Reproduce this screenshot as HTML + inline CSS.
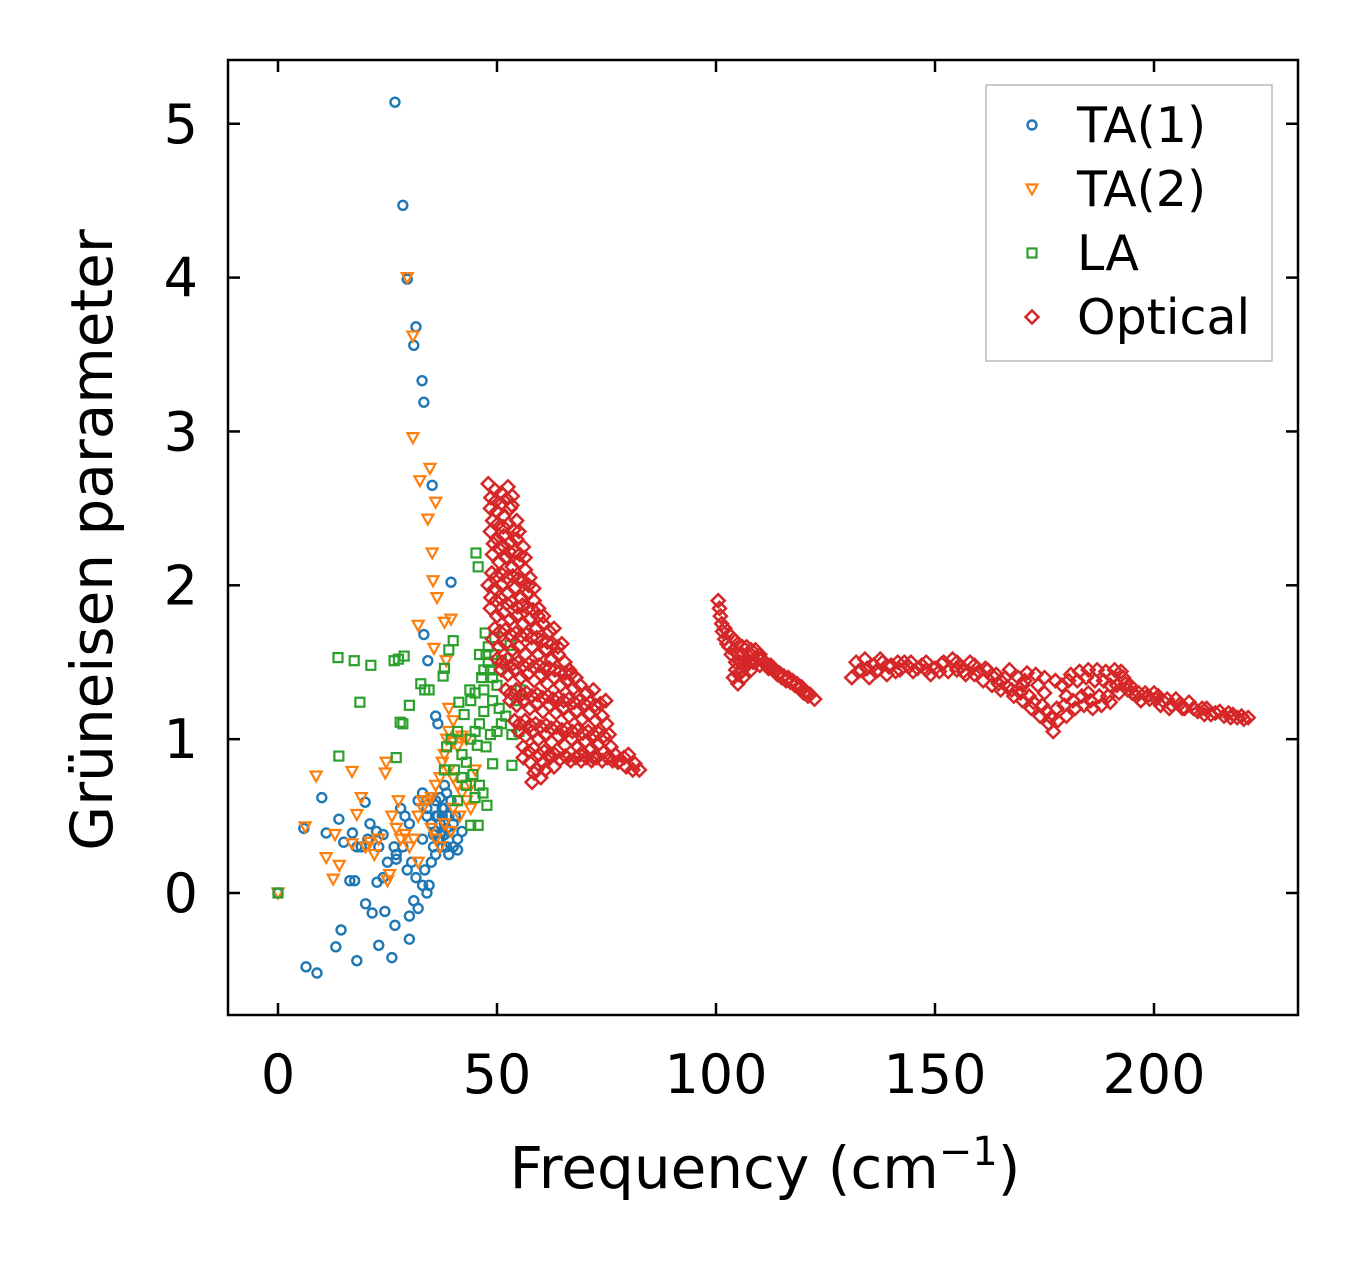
<!DOCTYPE html>
<html><head><meta charset="utf-8"><style>
body{margin:0;background:#fff;}
svg{display:block;font-family:"DejaVu Sans","Liberation Sans",sans-serif;}
</style></head><body>
<svg id="chart" width="1357" height="1264" viewBox="0 0 1357 1264" xmlns="http://www.w3.org/2000/svg">
<rect width="1357" height="1264" fill="#fff"/>
<g id="marks"></g>
<rect x="228" y="60" width="1070" height="955" fill="none" stroke="#000" stroke-width="2.5"/>
<g id="axes"></g>
<text x="765" y="1188" font-size="58" text-anchor="middle">Frequency (cm<tspan dy="-23" font-size="40">−1</tspan><tspan dy="23">)</tspan></text>
<text transform="translate(112,540) rotate(-90)" font-size="58" text-anchor="middle">Grüneisen parameter</text>
<g>
<rect x="986" y="85" width="286" height="276" fill="#fff" stroke="#bbb" stroke-width="1.5"/>
<g id="legend-items"></g>
</g>
</svg>
<script>
const xTicks=[0,50,100,150,200];
const yTicks=[0,1,2,3,4,5];
const ta1=[[0,0],[26.7,5.14],[28.5,4.47],[29.5,3.99],[31.5,3.68],[31,3.56],[32.9,3.33],[33.3,3.19],[35.2,2.65],[39.5,2.02],[33.3,1.68],[34.2,1.51],[36,1.15],[36.5,1.1],[6.4,-0.48],[8.9,-0.52],[18,-0.44],[13.2,-0.35],[14.4,-0.24],[23,-0.34],[26,-0.42],[30,-0.3],[26.7,-0.21],[21.5,-0.13],[24.4,-0.12],[20,-0.07],[22.6,0.07],[10,0.62],[5.9,0.42],[19.9,0.59],[16.4,0.08],[17.5,0.08],[17,0.39],[13.9,0.48],[11,0.39],[21,0.45],[22.5,0.4],[24,0.38],[26.5,0.3],[27,0.22],[28,0.55],[29,0.5],[30,0.45],[29.5,0.15],[30.5,0.2],[31,-0.05],[32,-0.1],[30,-0.15],[31.5,0.1],[33,0.05],[34,0],[34.5,0.05],[33.5,0.15],[35,0.2],[36,0.25],[35.5,0.3],[33,0.35],[32,0.6],[33,0.65],[34,0.55],[35,0.45],[36,0.4],[37,0.35],[37.5,0.5],[38,0.45],[38.5,0.3],[39,0.25],[40,0.3],[41,0.35],[40.5,0.5],[39.5,0.6],[38,0.7],[37,0.62],[36,0.6],[41,0.28],[42,0.4],[38,0.55],[37.5,0.4],[36.5,0.5],[38.5,0.65],[39,0.4],[40,0.45],[34,0.5],[35,0.62],[28.5,0.3],[27,0.25],[25,0.2],[24,0.1],[23,0.3],[19,0.3],[20.5,0.35],[15,0.33],[18,0.3],[36.5,0.35],[37.5,0.3],[38,0.38],[39,0.5],[37,0.45],[36,0.5],[38.5,0.42],[37.5,0.55],[35.5,0.38]];
const ta2=[[0,0],[29.5,4.0],[30.8,3.62],[30.8,2.96],[34.7,2.76],[32.4,2.68],[36,2.54],[34.2,2.43],[35.2,2.21],[35.4,2.03],[36.3,1.92],[38,1.76],[39.5,1.78],[32,1.74],[35.6,1.59],[38.4,1.51],[8.7,0.76],[16.9,0.79],[6.2,0.43],[11,0.23],[12.6,0.09],[14,0.18],[18,0.51],[19,0.62],[24.7,0.85],[24.5,0.78],[16.9,0.32],[22,0.25],[25,0.08],[25.5,0.12],[27,0.42],[28,0.35],[29,0.38],[30,0.3],[31,0.35],[32,0.5],[33,0.55],[34,0.6],[35,0.62],[36,0.7],[37,0.75],[37.5,0.85],[38,0.9],[38.5,1.0],[39,1.05],[40,0.98],[41,0.95],[42,1.02],[43,1.0],[39,0.8],[40,0.75],[41,0.7],[42,0.65],[43,0.6],[44,0.55],[38,0.45],[39.5,0.4],[36,0.35],[37,0.3],[40,0.55],[41.5,0.5],[35,0.42],[32,0.2],[33,0.6],[44,0.7],[45,0.8],[39,1.2],[40,1.12],[20,0.3],[23,0.35],[21,0.33],[13,0.38],[26,0.5],[27.5,0.6]];
const la=[[0,0],[45.2,2.21],[45.7,2.12],[13.7,1.53],[17.4,1.51],[21.2,1.48],[26.5,1.51],[28.8,1.54],[27.5,1.52],[18.7,1.24],[13.9,0.89],[27,0.88],[27.9,1.11],[28.5,1.1],[30,1.22],[32.6,1.36],[33.5,1.32],[34.5,1.32],[37.7,1.41],[38,1.46],[40,1.64],[39,1.58],[47.3,1.69],[49.5,1.66],[46,1.55],[51,1.51],[53,1.61],[55.3,1.32],[47,1.32],[43.8,1.32],[41.3,1.24],[42.5,1.16],[47,1.18],[53.4,1.03],[45.5,0.96],[40.3,0.8],[44.5,0.77],[49,0.84],[46.8,0.65],[47.7,0.57],[45.7,0.44],[44,0.44],[53.4,0.83],[38,0.8],[38.5,0.95],[39.5,1.0],[41,1.05],[42,0.9],[43,0.85],[44,1.0],[45,1.05],[46,1.1],[47,1.45],[48,1.5],[49,1.4],[50,1.35],[50.5,1.2],[51,1.1],[52,1.15],[49,1.25],[48,1.6],[46.5,1.4],[45,1.3],[44,1.25],[43,0.7],[42,0.75],[46,0.7],[45,0.62],[41,0.6],[48.5,1.03],[50,1.05],[47.5,0.95],[54.5,1.25],[55,1.05],[47.5,1.55],[48.5,1.45],[49.5,1.55],[50.5,1.45]];
const optical=[
[48,2.66],[49.5,2.62],[51,2.6],[52.5,2.64],[53.5,2.58],[48.5,2.5],[50,2.48],[51.5,2.45],[53,2.5],[54.5,2.42],
[48.6,2.57],[49.8,2.55],[51,2.53],[52.2,2.56],[53.4,2.52],[49,2.42],[50.2,2.4],[51.4,2.38],[52.6,2.4],[53.8,2.36],[55,2.35],
[48.5,2.35],[50,2.3],[51.5,2.32],[53,2.28],[54.5,2.3],[56,2.25],[49,2.2],[50.5,2.15],[52,2.18],[53.5,2.12],[55,2.15],[56.5,2.1],[57.5,2.05],
[49.2,2.27],[50.4,2.24],[51.6,2.25],[52.8,2.22],[54,2.22],[55.2,2.2],[56.4,2.18],[48.8,2.08],[50,2.06],[51.2,2.07],[52.4,2.05],[53.6,2.06],[54.8,2.04],[56,2.03],[57.2,2.0],[58.4,1.98],
[48,2.0],[49.5,1.98],[51,2.0],[52.5,1.95],[54,1.98],[55.5,1.92],[57,1.95],[58.5,1.9],[59.5,1.85],
[48.6,1.92],[49.8,1.9],[51,1.91],[52.2,1.88],[53.4,1.89],[54.6,1.86],[55.8,1.87],[57,1.85],[58.2,1.84],[59.4,1.8],[60.6,1.8],
[48.5,1.85],[50,1.8],[51.5,1.82],[53,1.78],[54.5,1.8],[56,1.75],[57.5,1.78],[59,1.72],[60.5,1.75],[62,1.7],[63,1.72],
[49.5,1.72],[50.7,1.7],[51.9,1.71],[53.1,1.68],[54.3,1.69],[55.5,1.67],[56.7,1.68],[57.9,1.66],[59.1,1.66],[60.3,1.64],[61.5,1.63],[62.7,1.62],[63.9,1.6],[64.8,1.62],
[49,1.65],[50.5,1.6],[52,1.62],[53.5,1.58],[55,1.6],[56.5,1.55],[58,1.6],[59.5,1.55],[61,1.58],[62.5,1.52],[64,1.55],[65.5,1.5],[66.5,1.45],
[50,1.52],[51.2,1.5],[52.4,1.52],[53.6,1.49],[54.8,1.5],[56,1.48],[57.2,1.49],[58.4,1.47],[59.6,1.48],[60.8,1.46],[62,1.46],[63.2,1.45],[64.4,1.44],[65.6,1.43],[66.8,1.42],[68,1.4],
[51,1.45],[52.5,1.42],[54,1.45],[55.5,1.4],[57,1.42],[58.5,1.38],[60,1.42],[61.5,1.36],[63,1.4],[64.5,1.35],[66,1.38],[67.5,1.33],[69,1.35],[70.5,1.3],[72,1.32],
[52,1.32],[53.2,1.3],[54.4,1.32],[55.6,1.29],[56.8,1.3],[58,1.28],[59.2,1.29],[60.4,1.27],[61.6,1.28],[62.8,1.26],[64,1.27],[65.2,1.25],[66.4,1.26],[67.6,1.24],[68.8,1.25],[70,1.23],[71.2,1.24],[72.4,1.22],[73.6,1.23],[74.8,1.25],
[53,1.25],[54.5,1.22],[56,1.25],[57.5,1.2],[59,1.23],[60.5,1.18],[62,1.22],[63.5,1.17],[65,1.2],[66.5,1.15],[68,1.18],[69.5,1.13],[71,1.16],[72.5,1.12],[74,1.15],[75,1.1],
[54,1.12],[55.2,1.1],[56.4,1.12],[57.6,1.09],[58.8,1.1],[60,1.08],[61.2,1.09],[62.4,1.07],[63.6,1.08],[64.8,1.06],[66,1.07],[67.2,1.05],[68.4,1.06],[69.6,1.04],[70.8,1.05],[72,1.03],[73.2,1.04],[74.4,1.02],[75.6,1.03],
[55,1.05],[56.5,1.02],[58,1.05],[59.5,1.0],[61,1.03],[62.5,0.98],[64,1.02],[65.5,0.96],[67,1.0],[68.5,0.95],[70,0.98],[71.5,0.94],[73,0.96],[74.5,0.92],[76,0.95],[77,0.9],
[56,0.95],[57.2,0.92],[58.4,0.94],[59.6,0.9],[60.8,0.92],[62,0.88],[63.2,0.9],[64.4,0.87],[65.6,0.89],[66.8,0.86],[68,0.88],[69.2,0.86],[70.4,0.88],[71.6,0.86],[72.8,0.88],[74,0.86],[75.2,0.88],[76.4,0.86],[77.6,0.85],
[56,0.88],[57.5,0.85],[59,0.8],[60.5,0.85],[62,0.9],[58,0.72],[60,0.75],[63,0.82],[66,0.88],[69,0.9],[72,0.88],[78,0.86],[79.5,0.82],[81,0.8],[82.5,0.8],[80,0.9],[58.5,0.78],[61,0.8],[79,0.88],[81.5,0.84],
[100.5,1.9],[101,1.8],[101.5,1.7],[102,1.65],[103,1.6],[104,1.58],[105,1.55],[106,1.55],[107,1.52],[108,1.55],[109,1.5],[110,1.48],[111,1.5],[112,1.46],[113,1.45],[114,1.42],[115,1.4],[116,1.38],[117,1.37],[118,1.35],[119,1.33],[120,1.3],[121,1.28],[122.5,1.26],
[102,1.72],[103,1.68],[104,1.65],[105,1.62],[106,1.6],[107,1.6],[108,1.58],[109,1.58],[110,1.55],[104,1.4],[105,1.36],[104.5,1.45],[106,1.45],[107,1.48],[108,1.45],
[100.8,1.85],[101.3,1.75],[102.5,1.62],[103.5,1.55],[104.5,1.5],[105.5,1.5],[106.5,1.5],[107.5,1.5],[108.5,1.5],[109.5,1.53],[110.5,1.52],[111.5,1.48],[112.5,1.48],[113.5,1.44],[114.5,1.43],[115.5,1.41],[116.5,1.4],[117.5,1.38],[118.5,1.36],[119.5,1.34],[120.5,1.31],[121.5,1.29],[105.2,1.42],[106.2,1.4],
[131,1.4],[132,1.5],[133,1.45],[134,1.52],[135,1.4],[136,1.48],[138,1.5],[139,1.42],[140,1.48],[142,1.45],[143,1.5],[145,1.44],[147,1.48],[149,1.42],[150,1.46],[152,1.5],[153,1.44],[154,1.52],[156,1.47],[157,1.42],[158,1.5],[160,1.44],[161,1.38],[162,1.45],[163,1.35],[164,1.42],[165,1.32],[166,1.4],[167,1.45],[168,1.28],[169,1.4],[170,1.25],[171,1.43],[172,1.2],[173,1.42],[174,1.15],[175,1.4],[176,1.1],[177,1.05],[177.5,1.38],[178,1.12],[179,1.35],[180,1.15],[181,1.42],[182,1.2],[183,1.44],[184,1.22],[185,1.45],[186,1.2],[187,1.45],[188,1.22],[189,1.44],[190,1.24],[191,1.45],[192,1.3],[193,1.4],[194,1.32],[195,1.3],[196,1.28],[197,1.25],[198,1.3],[199,1.26],[200,1.3],[202,1.25],[204,1.22],[205,1.26],[207,1.2],[208,1.24],[210,1.18],[212,1.2],[213,1.16],[215,1.18],[216,1.15],[218,1.16],[219,1.14],[220,1.15],[221.5,1.14],
[137,1.45],[144,1.47],[148,1.45],[155,1.45],[159,1.48],[165,1.38],[170,1.35],[175,1.3],[180,1.28],[185,1.3],[190,1.35],[201,1.28],[206,1.23],[211,1.2],[217,1.17],
[132.5,1.44],[134.5,1.46],[136.5,1.44],[137.5,1.52],[139.5,1.47],[141,1.44],[141.5,1.5],[144.5,1.5],[146,1.46],[148,1.5],[151,1.44],[151.5,1.49],[155,1.5],[156.5,1.44],[159,1.42],[161.5,1.46],[163.5,1.4],[164.5,1.36],[166.5,1.34],[167.5,1.32],[169.5,1.3],[170.5,1.38],[171.5,1.28],[172.5,1.24],[173.5,1.35],[174.5,1.22],[175.5,1.18],[176.5,1.14],[177.8,1.2],[179.5,1.22],[180.5,1.38],[181.5,1.25],[182.5,1.38],[183.5,1.28],[184.5,1.4],[185.5,1.25],[186.5,1.38],[187.5,1.28],[188.5,1.38],[189.5,1.28],[190.5,1.4],[191.5,1.35],[192.5,1.44],[193.5,1.36],[194.5,1.35],[196.5,1.3],[198.5,1.28],[200.5,1.26],[201.5,1.22],[203,1.26],[203.5,1.2],[206.5,1.2],[209,1.2],[211.5,1.16],[214,1.17],[217.5,1.14],[220.5,1.13]];

const X=v=>278+v*4.38;
const Y=v=>893-v*153.85;
const NS='http://www.w3.org/2000/svg';
const marks=document.getElementById('marks');
function mk(tag){return document.createElementNS(NS,tag);}
function circle(px,py,c){const e=mk('circle');e.setAttribute('cx',px);e.setAttribute('cy',py);e.setAttribute('r',4.5);e.setAttribute('fill','none');e.setAttribute('stroke',c);e.setAttribute('stroke-width',2.4);return e;}
function tri(px,py,c){const e=mk('polygon');e.setAttribute('points',`${px-5.5},${py-4.5} ${px+5.5},${py-4.5} ${px},${py+5.5}`);e.setAttribute('fill','none');e.setAttribute('stroke',c);e.setAttribute('stroke-width',2.2);return e;}
function sq(px,py,c){const e=mk('rect');e.setAttribute('x',px-4.5);e.setAttribute('y',py-4.5);e.setAttribute('width',9);e.setAttribute('height',9);e.setAttribute('fill','none');e.setAttribute('stroke',c);e.setAttribute('stroke-width',2.2);return e;}
function dia(px,py,c){const e=mk('polygon');e.setAttribute('points',`${px},${py-6.5} ${px+6.5},${py} ${px},${py+6.5} ${px-6.5},${py}`);e.setAttribute('fill','none');e.setAttribute('stroke',c);e.setAttribute('stroke-width',2.5);return e;}

ta1.forEach(d=>{const e=circle(X(d[0]),Y(d[1]),'#1f77b4');


marks.appendChild(e);});
ta2.forEach(d=>{const e=tri(X(d[0]),Y(d[1]),'#ff7f0e');


marks.appendChild(e);});
la.forEach(d=>{const e=sq(X(d[0]),Y(d[1]),'#2ca02c');


marks.appendChild(e);});
optical.forEach(d=>{const e=dia(X(d[0]),Y(d[1]),'#d62728');


marks.appendChild(e);});

const axes=document.getElementById('axes');
function line(x1,y1,x2,y2){const l=mk('line');l.setAttribute('x1',x1);l.setAttribute('y1',y1);l.setAttribute('x2',x2);l.setAttribute('y2',y2);l.setAttribute('stroke','#000');l.setAttribute('stroke-width',2.5);return l;}
xTicks.forEach(t=>{const x=X(t);
const a=line(x,1015,x,1003);


axes.appendChild(a);
const b=line(x,60,x,72);


axes.appendChild(b);
const tx=mk('text');tx.setAttribute('x',x);tx.setAttribute('y',1093);tx.setAttribute('font-size','54');tx.setAttribute('text-anchor','middle');tx.textContent=t;


axes.appendChild(tx);});
yTicks.forEach(t=>{const y=Y(t);
const a=line(228,y,240,y);


axes.appendChild(a);
const b=line(1298,y,1286,y);


axes.appendChild(b);
const tx=mk('text');tx.setAttribute('x',198);tx.setAttribute('y',y+19);tx.setAttribute('font-size','54');tx.setAttribute('text-anchor','end');tx.textContent=t;


axes.appendChild(tx);});

const legNames=['TA(1)','TA(2)','LA','Optical'];
const legFns=[[circle,'#1f77b4'],[tri,'#ff7f0e'],[sq,'#2ca02c'],[dia,'#d62728']];
const li=document.getElementById('legend-items');
legNames.forEach((n,i)=>{const y=125+i*64;
const g=mk('g');


g.appendChild(legFns[i][0](1032,y,legFns[i][1]));
const tx=mk('text');tx.setAttribute('x',1077);tx.setAttribute('y',y+17);tx.setAttribute('font-size','49');tx.textContent=n;
g.appendChild(tx);li.appendChild(g);});
</script>
</body></html>
